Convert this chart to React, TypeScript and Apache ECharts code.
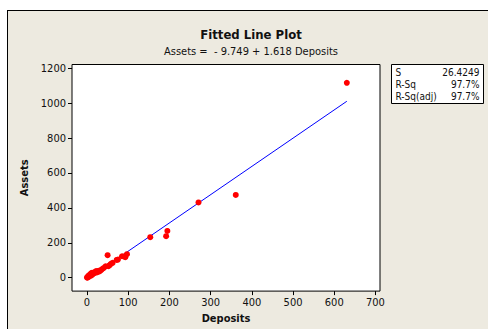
import React, { useEffect, useRef } from "react";
import * as echarts from "echarts";

const deposits = [0, 1, 2, 3, 4, 5, 6, 7, 8, 9, 10, 11, 12, 13, 14, 16, 18, 20, 22, 24, 26, 28, 30, 33, 36, 40, 45, 50, 52, 55, 58, 62, 72, 75, 85, 90, 93, 97, 153.5, 192, 195, 270.6, 361, 630.5];
const assets = [2, 0, 5, 8, 12, 6, 15, 10, 20, 18, 25, 14, 28, 22, 20, 30, 26, 33, 38, 30, 35, 40, 36, 42, 48, 55, 65, 129, 66, 72, 80, 85, 102, 104, 123, 122, 118, 135, 232, 238, 268, 431, 474, 1116];
const intercept = -9.749;
const slope = 1.618;
const xTicks = [0, 100, 200, 300, 400, 500, 600, 700];
const yTicks = [0, 200, 400, 600, 800, 1000, 1200];
const statNames = ["S", "R-Sq", "R-Sq(adj)"];
const statValues = ["26.4249", "97.7%", "97.7%"];

const FONT = "'DejaVu Sans Condensed', 'DejaVu Sans', sans-serif";

export default function App() {
  const ref = useRef<HTMLDivElement>(null);
  useEffect(() => {
    document.body.style.margin = "0";
    const chart = echarts.init(ref.current!, null, { renderer: "svg" });
    const xMin = Math.min(...deposits);
    const xMax = Math.max(...deposits);
    const fit = [
      [xMin, intercept + slope * xMin],
      [xMax, intercept + slope * xMax],
    ];
    const statTexts: any[] = [];
    statNames.forEach((n, i) => {
      statTexts.push({
        type: "text",
        x: 4,
        y: 8 + i * 12,
        style: { text: n, fontSize: 10, fontFamily: FONT, fill: "#111", textVerticalAlign: "middle", textAlign: "left" },
      });
      statTexts.push({
        type: "text",
        x: 88,
        y: 8 + i * 12,
        style: { text: statValues[i], fontSize: 10, fontFamily: FONT, fill: "#111", textVerticalAlign: "middle", textAlign: "right" },
      });
    });
    chart.setOption({
      animation: false,
      backgroundColor: "transparent",
      title: {
        text: "Fitted Line Plot",
        subtext: "Assets =  - 9.749 + 1.618 Deposits",
        left: 246,
        textAlign: "center",
        top: 23,
        itemGap: 5,
        textStyle: { fontFamily: FONT, fontSize: 13, fontWeight: "bold", color: "#111" },
        subtextStyle: { fontFamily: FONT, fontSize: 11, color: "#111" },
      },
      grid: {
        left: 72,
        top: 64.5,
        right: 108,
        bottom: 37.5,
        show: true,
        backgroundColor: "#fff",
        borderColor: "#000",
        borderWidth: 1,
      },
      xAxis: {
        type: "value",
        min: -36.4,
        max: 711,
        name: "Deposits",
        nameLocation: "middle",
        nameGap: 21,
        nameTextStyle: { fontFamily: FONT, fontSize: 11, fontWeight: "bold", color: "#111" },
        splitLine: { show: false },
        axisLine: { show: false, onZero: false },
        axisTick: { show: true, length: 4, lineStyle: { color: "#000" }, customValues: xTicks },
        axisLabel: { customValues: xTicks, fontFamily: FONT, fontSize: 11, color: "#111", margin: 6, formatter: (v: number) => String(v) },
      },
      yAxis: {
        type: "value",
        min: -76.5,
        max: 1221,
        name: "Assets",
        nameLocation: "middle",
        nameGap: 40,
        nameTextStyle: { fontFamily: FONT, fontSize: 11, fontWeight: "bold", color: "#111" },
        splitLine: { show: false },
        axisLine: { show: false, onZero: false },
        axisTick: { show: true, length: 4, lineStyle: { color: "#000" }, customValues: yTicks },
        axisLabel: { customValues: yTicks, fontFamily: FONT, fontSize: 11, color: "#111", margin: 6, formatter: (v: number) => String(v) },
      },
      series: [
        {
          type: "line",
          data: fit,
          symbol: "none",
          lineStyle: { color: "#0000ff", width: 1 },
          z: 2,
        },
        {
          type: "scatter",
          data: deposits.map((d, i) => [d, assets[i]]),
          symbolSize: 6,
          itemStyle: { color: "#ff0000", opacity: 1 },
          z: 3,
        },
      ],
      graphic: [
        {
          type: "group",
          x: 391.5,
          y: 64.5,
          children: [
            { type: "rect", shape: { x: 0, y: 0, width: 92, height: 39 }, style: { fill: "#fff", stroke: "#000", lineWidth: 1 } },
            ...statTexts,
          ],
        },
      ],
    });
    return () => chart.dispose();
  }, []);
  return (
    <div style={{ position: "relative", width: 488, height: 329, overflow: "hidden", background: "#fff" }}>
      <div style={{ position: "absolute", left: 7, top: 10, width: 520, height: 400, background: "#EDEAE0", border: "1px solid #000" }} />
      <div ref={ref} style={{ position: "absolute", left: 0, top: 0, width: 488, height: 329 }} />
    </div>
  );
}
